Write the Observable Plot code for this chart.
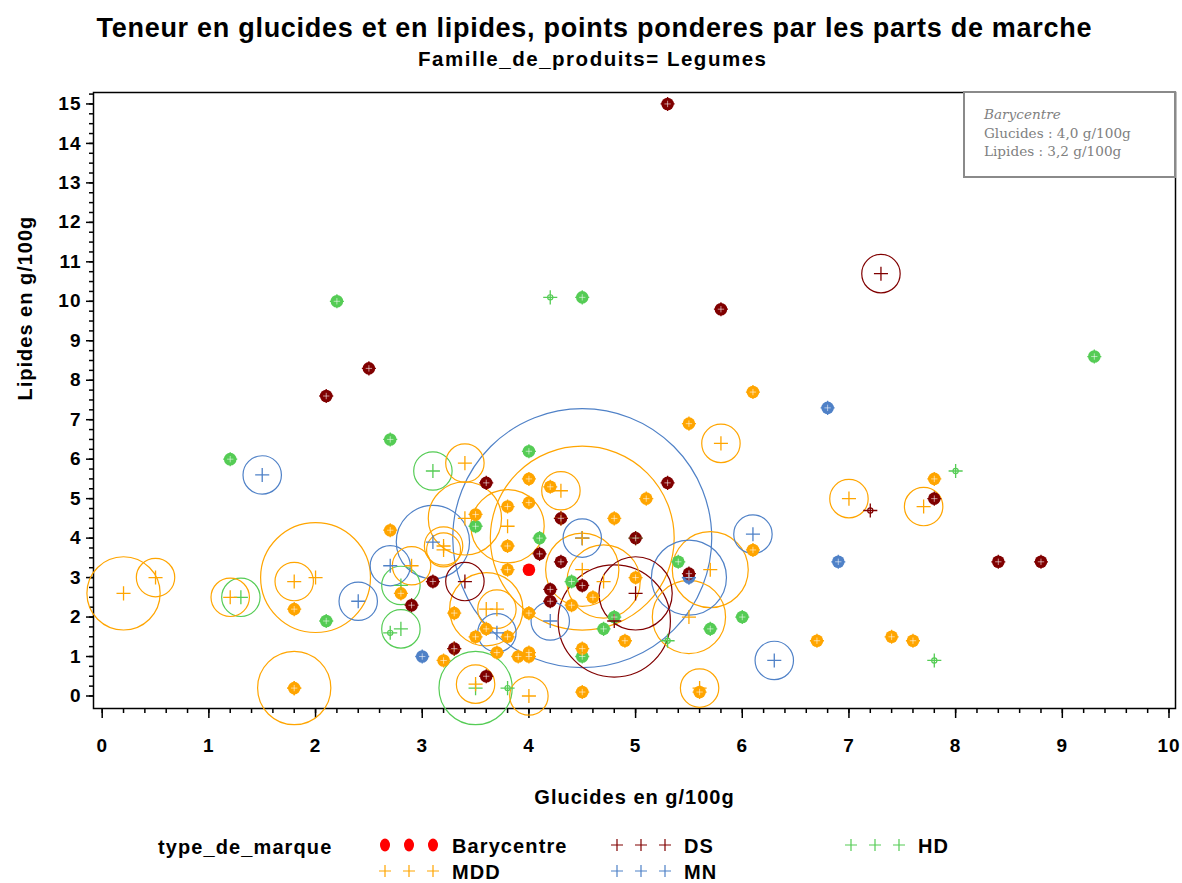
<!DOCTYPE html>
<html><head><meta charset="utf-8">
<script src="https://cdn.jsdelivr.net/npm/d3@7"></script>
<script src="https://cdn.jsdelivr.net/npm/@observablehq/plot@0.6"></script>
<style>
html,body{margin:0;padding:0;background:#fff;}
body{width:1182px;height:883px;overflow:hidden;position:relative;font-family:"Liberation Sans",Arial,sans-serif;}
svg{display:block;}
#chart svg text{letter-spacing:1px;}
#note{position:absolute;left:963px;top:91px;width:213px;height:87px;box-sizing:border-box;border:2px solid #8a8a8a;background:#fff;
 font-family:"DejaVu Serif",serif;font-size:13.6px;line-height:18.5px;color:#7f7f7f;padding:12px 0 0 19px;}
#note i{font-style:italic;}
</style></head><body>
<svg id="head" width="1182" height="80"></svg>
<div id="chart"></div>
<svg id="legend" width="1182" height="63"></svg>
<div id="note"><i>Barycentre</i><br>Glucides : 4,0 g/100g<br>Lipides : 3,2 g/100g</div>
<script>
// Texts
const titleText = "Teneur en glucides et en lipides, points ponderes par les parts de marche";
const subtitleText = "Famille_de_produits= Legumes";
const xLabel = "Glucides en g/100g";
const yLabel = "Lipides en g/100g";
const legendTitle = "type_de_marque";

// Groups and colours
const groups = ["Barycentre", "DS", "HD", "MDD", "MN"];
const colors = ["#ff0000", "#800000", "#55cc55", "#ffa500", "#4f81c7"];

// Tick labels
const xTicks = [0, 1, 2, 3, 4, 5, 6, 7, 8, 9, 10];
const yTicks = [0, 1, 2, 3, 4, 5, 6, 7, 8, 9, 10, 11, 12, 13, 14, 15];

// [glucides g/100g, lipides g/100g, part de marche %]
const ptsHD = [[2.2,10.0,0.02],[4.2,10.1,0.01],[4.5,10.1,0.02],[9.3,8.6,0.02],[2.7,6.5,0.02],[1.2,6.0,0.02],[4.0,6.2,0.02],
 [3.1,5.7,0.55],[8.0,5.7,0.01],[3.5,4.3,0.02],[4.1,4.0,0.02],[5.0,4.0,0.01],[5.4,3.4,0.02],[4.4,2.9,0.02],[2.8,2.8,0.55],
 [1.3,2.5,0.55],[2.1,1.9,0.02],[2.8,1.7,0.55],[2.7,1.6,0.01],[4.8,2.0,0.02],[4.7,1.7,0.02],[5.7,1.7,0.02],[6.0,2.0,0.02],
 [5.3,1.4,0.01],[4.5,1.0,0.02],[3.5,0.2,2.0],[3.8,0.2,0.01],[7.8,0.9,0.01]];
const ptsMN = [[6.8,7.3,0.02],[1.5,5.6,0.55],[6.1,4.1,0.55],[4.5,4.0,25],[4.5,4.0,0.55],[3.1,3.9,2.0],[2.7,3.3,0.6],
 [2.4,2.4,0.55],[3.7,1.6,0.55],[4.2,1.9,0.55],[5.5,3.0,2.1],[5.5,3.0,0.02],[3.0,1.0,0.02],[6.9,3.4,0.02],[6.3,0.9,0.55]];
const ptsMDD = [[6.1,7.7,0.02],[5.5,6.9,0.02],[5.8,6.4,0.55],[3.4,5.9,0.55],[4.0,5.5,0.02],[4.2,5.3,0.02],[4.3,5.2,0.55],
 [5.1,5.0,0.02],[7.0,5.0,0.55],[7.8,5.5,0.02],[7.7,4.8,0.55],[3.8,4.8,0.02],[4.0,4.9,0.02],[3.4,4.5,2.0],[3.5,4.6,0.02],
 [3.8,4.3,2.0],[4.3,4.5,0.01],[4.8,4.5,0.02],[4.5,4.0,12.6],[2.7,4.2,0.02],[3.2,3.8,0.55],[3.2,3.7,0.43],[3.8,3.8,0.02],
 [2.9,3.3,0.55],[3.8,3.2,0.02],[4.5,3.2,2.0],[4.7,2.9,2.0],[5.0,3.0,0.02],[4.4,2.3,0.02],[4.6,2.5,0.02],[5.7,3.2,2.15],
 [6.1,3.7,0.02],[5.5,2.0,2.0],[4.9,1.4,0.02],[4.5,1.2,0.02],[4.5,0.1,0.02],[4.0,0.0,0.55],[3.5,0.3,0.55],[3.6,2.2,2.0],
 [3.7,2.2,0.55],[3.3,2.1,0.02],[3.5,1.5,0.02],[3.6,1.7,0.02],[3.8,1.5,0.02],[3.7,1.1,0.02],[3.9,1.0,0.02],[4.0,1.1,0.02],
 [4.0,1.0,0.02],[4.0,2.1,0.02],[3.2,0.9,0.02],[3.3,1.2,0.01],[2.8,2.6,0.02],[2.0,3.0,4.5],[1.8,2.9,0.55],[1.8,2.2,0.02],
 [1.8,0.2,2.0],[1.8,0.2,0.02],[0.2,2.6,2.0],[0.5,3.0,0.55],[1.2,2.5,0.55],[5.6,0.2,0.55],[5.6,0.1,0.02],[6.7,1.4,0.02],
 [7.4,1.5,0.02],[7.6,1.4,0.02]];
const ptsDS = [[5.3,15.0,0.02],[7.3,10.7,0.55],[5.8,9.8,0.02],[2.5,8.3,0.02],[2.1,7.6,0.02],[3.6,5.4,0.02],[5.3,5.4,0.02],
 [4.3,4.5,0.02],[7.8,5.0,0.02],[7.2,4.7,0.01],[5.0,4.0,0.02],[4.1,3.6,0.02],[4.3,3.4,0.02],[3.4,2.9,0.55],[3.1,2.9,0.02],
 [2.9,2.3,0.02],[4.2,2.7,0.02],[4.2,2.4,0.02],[4.5,2.8,0.02],[5.0,2.6,2.0],[4.8,1.9,4.7],[5.5,3.1,0.02],[3.3,1.2,0.02],
 [3.6,0.5,0.02],[8.4,3.4,0.02],[8.8,3.4,0.02]];
const barycentre = [[4.0, 3.2]];

// Build table
const toRows = (arr, g) => arr.map(([x, y, p]) => ({x, y, p, g}));
const rows = [...toRows(ptsHD, "HD"), ...toRows(ptsMN, "MN"), ...toRows(ptsMDD, "MDD"), ...toRows(ptsDS, "DS")];
const bary = barycentre.map(([x, y]) => ({x, y, g: "Barycentre"}));
const isBlob = d => d.p > 0.015 && d.p < 0.05;
const blobs = rows.filter(isBlob);

const xMinor = d3.range(0, 10.001, 0.2);
const yMinor = d3.range(0, 15.3, 0.25);

const chart = Plot.plot({
  width: 1182, height: 740,
  marginLeft: 93, marginRight: 7, marginTop: 12, marginBottom: 112,
  x: {domain: [-0.0815, 10.061], label: null},
  y: {domain: [-0.317, 15.29], label: null},
  r: {type: "sqrt", domain: [0, 25], range: [0, 129.5]},
  color: {domain: groups, range: colors},
  style: {fontFamily: "'Liberation Sans', Arial, sans-serif", background: "#fff", color: "#000"},
  marks: [
    Plot.axisX({ticks: xMinor, tickSize: 5, tickFormat: () => "", label: null, strokeWidth: 1.5}),
    Plot.axisX({ticks: xTicks, tickSize: 10, tickPadding: 20, tickFormat: d => String(d), label: null,
      fontSize: 19, fontWeight: "bold", strokeWidth: 1.5}),
    Plot.axisY({ticks: yMinor, tickSize: 4, tickFormat: () => "", label: null, strokeWidth: 1.5}),
    Plot.axisY({ticks: yTicks, tickSize: 7, tickPadding: 5, tickFormat: d => String(d), label: null,
      fontSize: 19, fontWeight: "bold", strokeWidth: 1.5}),
    Plot.frame({stroke: "#000", strokeWidth: 1.5}),
    Plot.dot(rows, {x: "x", y: "y", r: "p", stroke: "g", strokeWidth: 1.2, fill: "none"}),
    Plot.dot(blobs, {x: "x", y: "y", r: 6.3, fill: "g"}),
    Plot.dot(rows, {x: "x", y: "y", symbol: "plus", r: 4.6, stroke: "g", strokeWidth: 1.3}),
    Plot.dot(blobs, {x: "x", y: "y", symbol: "plus", r: 2.2, stroke: "#fff", strokeWidth: 0.7, strokeOpacity: 0.8}),
    Plot.dot(bary, {x: "x", y: "y", r: 6.3, fill: "g"}),
    Plot.text([xLabel], {text: d => d, frameAnchor: "bottom", dy: 89, lineAnchor: "middle",
      fontSize: 20, fontWeight: "bold"}),
    Plot.text([yLabel], {text: d => d, frameAnchor: "left", dx: -68, rotate: -90, lineAnchor: "middle",
      fontSize: 20, fontWeight: "bold"})
  ]
});
document.getElementById("chart").appendChild(chart);

// Header
const head = d3.select("#head");
head.append("text").attr("x", 594).attr("y", 37).attr("text-anchor", "middle")
  .attr("font-family", "'Liberation Sans', Arial, sans-serif").attr("font-weight", "bold").attr("font-size", 27)
  .attr("textLength", 995).attr("lengthAdjust", "spacing").text(titleText);
head.append("text").attr("x", 592).attr("y", 66).attr("text-anchor", "middle")
  .attr("font-family", "'Liberation Sans', Arial, sans-serif").attr("font-weight", "bold").attr("font-size", 20.5)
  .attr("textLength", 348).attr("lengthAdjust", "spacing").text(subtitleText);

// Legend
const leg = d3.select("#legend").attr("font-family", "'Liberation Sans', Arial, sans-serif")
  .attr("font-weight", "bold").attr("font-size", 20);
const color = d3.scaleOrdinal(groups, colors);
leg.append("text").attr("x", 158).attr("y", 34).attr("letter-spacing", 1.1).text(legendTitle);
const items = [
  {g: "Barycentre", col: 0, row: 0}, {g: "DS", col: 1, row: 0}, {g: "HD", col: 2, row: 0},
  {g: "MDD", col: 0, row: 1}, {g: "MN", col: 1, row: 1}
];
const colX = [385, 617, 851];
const rowY = [25, 51];
items.forEach(it => {
  const x0 = colX[it.col], y0 = rowY[it.row];
  for (let k = 0; k < 3; k++) {
    const cx = x0 + k * 24;
    if (it.g === "Barycentre") {
      leg.append("ellipse").attr("cx", cx).attr("cy", y0).attr("rx", 5).attr("ry", 6.5).attr("fill", color(it.g));
    } else {
      leg.append("path").attr("d", `M${cx - 6},${y0}H${cx + 6}M${cx},${y0 - 6}V${y0 + 6}`)
        .attr("stroke", color(it.g)).attr("stroke-width", 1.2).attr("fill", "none");
    }
  }
  leg.append("text").attr("x", x0 + 67).attr("y", y0 + 8).attr("letter-spacing", 1.1).text(it.g);
});
</script>
</body></html>
